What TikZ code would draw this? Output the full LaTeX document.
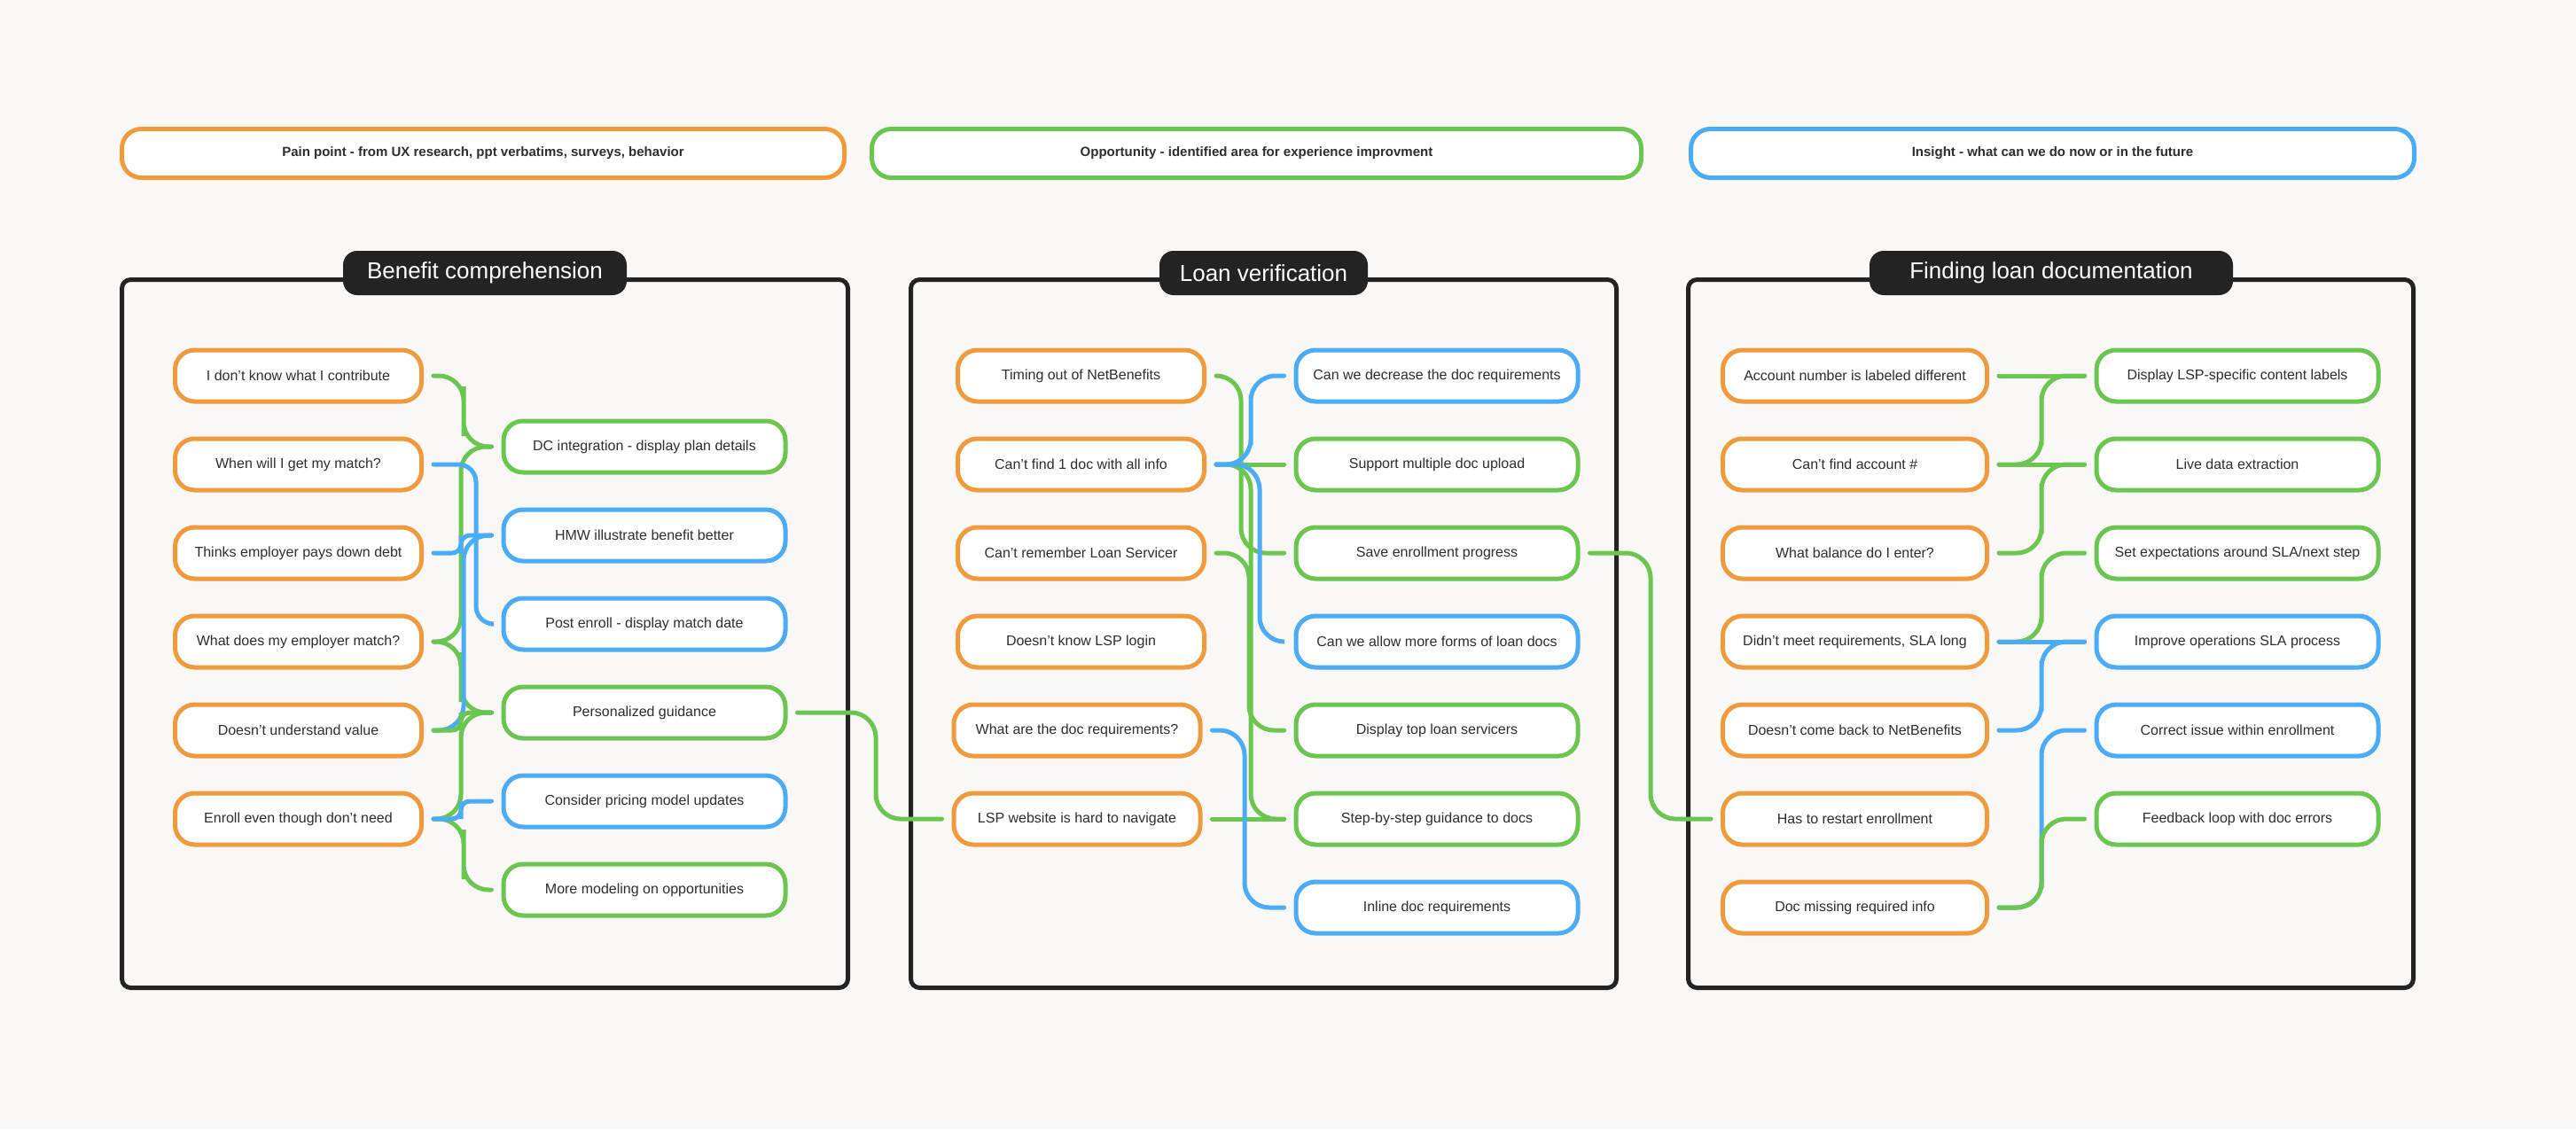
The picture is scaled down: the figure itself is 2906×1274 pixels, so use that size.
\documentclass[tikz,border=0pt]{standalone}
\usepackage{fontspec}
\setmainfont{Liberation Sans}
\usetikzlibrary{calc}
\definecolor{bg}{HTML}{F9F8F6}
\definecolor{por}{HTML}{F09A3C}
\definecolor{pgr}{HTML}{6AC64F}
\definecolor{pbl}{HTML}{4AABF7}
\definecolor{ink}{HTML}{2E2E2E}
\definecolor{dark}{HTML}{232323}
\newcommand\elbow[5][28pt]{\draw[cn,#2,rounded corners=#1] (#3.east) -| ($(#5|-#3.east)!0.5!(#5|-#4.west)$) |- (#4.west);}
\begin{document}
\begin{tikzpicture}[x=1pt,y=-1pt,
  card/.style={draw,line width=5pt,fill=white,rounded corners=22pt,minimum height=58pt,inner sep=0pt,text=ink,font=\fontsize{16}{19}\selectfont},
  pain/.style={card,draw=por,minimum width=278pt},
  opp/.style={card,draw=pgr,minimum width=318pt},
  ins/.style={card,draw=pbl,minimum width=318pt},
  legend/.style={draw,line width=5pt,fill=white,rounded corners=22pt,minimum height=55pt,inner sep=0pt,text=ink,font=\fontsize{15}{18}\selectfont\bfseries},
  frame/.style={draw=dark,line width=5pt,fill=bg,rounded corners=10pt,inner sep=0pt,minimum height=799pt},
  ttl/.style={fill=dark,rounded corners=16pt,minimum height=50pt,inner sep=0pt,text=white,font=\fontsize{26}{30}\selectfont},
  cn/.style={line width=5pt,line cap=round,shorten <=11pt,shorten >=11pt}]
\useasboundingbox (0,0) rectangle (2906,1274);
\fill[bg] (0,0) rectangle (2906,1274);
% legend
\node[legend,draw=por,minimum width=815pt] (l1) at (545,173) {Pain point - from UX research, ppt verbatims, surveys, behavior};
\node[legend,draw=pgr,minimum width=868pt] (l2) at (1417.5,173) {Opportunity - identified area for experience improvment};
\node[legend,draw=pbl,minimum width=816pt] (l3) at (2315.5,173) {Insight - what can we do now or in the future};
% frames
\node[frame,minimum width=819pt] (f1) at (547,715) {};
\node[frame,minimum width=796pt] (f2) at (1425.5,715) {};
\node[frame,minimum width=818pt] (f3) at (2313.5,715) {};
\node[ttl,minimum width=320pt] (t1) at (547,308) {Benefit comprehension};
\node[ttl,minimum width=235pt] (t2) at (1425.5,308) {Loan verification};
\node[ttl,minimum width=410pt] (t3) at (2314,308) {Finding loan documentation};
% section 1
\node[pain] (a1) at (336.5,424) {I don’t know what I contribute};
\node[pain] (a2) at (336.5,524) {When will I get my match?};
\node[pain] (a3) at (336.5,624) {Thinks employer pays down debt};
\node[pain] (a4) at (336.5,724) {What does my employer match?};
\node[pain] (a5) at (336.5,824) {Doesn’t understand value};
\node[pain] (a6) at (336.5,924) {Enroll even though don’t need};
\node[opp] (b1) at (727,504) {DC integration - display plan details};
\node[ins] (b2) at (727,604) {HMW illustrate benefit better};
\node[ins] (b3) at (727,704) {Post enroll - display match date};
\node[opp] (b4) at (727,804) {Personalized guidance};
\node[ins] (b5) at (727,904) {Consider pricing model updates};
\node[opp] (b6) at (727,1004) {More modeling on opportunities};
% section 2
\node[pain] (c1) at (1219.5,424) {Timing out of NetBenefits};
\node[pain] (c2) at (1219.5,524) {Can’t find 1 doc with all info};
\node[pain] (c3) at (1219.5,624) {Can’t remember Loan Servicer};
\node[pain] (c4) at (1219.5,724) {Doesn’t know LSP login};
\node[pain] (c5) at (1215,824) {What are the doc requirements?};
\node[pain] (c6) at (1215,924) {LSP website is hard to navigate};
\node[ins] (d1) at (1621,424) {Can we decrease the doc requirements};
\node[opp] (d2) at (1621,524) {Support multiple doc upload};
\node[opp] (d3) at (1621,624) {Save enrollment progress};
\node[ins] (d4) at (1621,724) {Can we allow more forms of loan docs};
\node[opp] (d5) at (1621,824) {Display top loan servicers};
\node[opp] (d6) at (1621,924) {Step-by-step guidance to docs};
\node[ins] (d7) at (1621,1024) {Inline doc requirements};
% section 3
\node[pain,minimum width=298pt] (e1) at (2092.5,424) {Account number is labeled different};
\node[pain,minimum width=298pt] (e2) at (2092.5,524) {Can’t find account \#};
\node[pain,minimum width=298pt] (e3) at (2092.5,624) {What balance do I enter?};
\node[pain,minimum width=298pt] (e4) at (2092.5,724) {Didn’t meet requirements, SLA long};
\node[pain,minimum width=298pt] (e5) at (2092.5,824) {Doesn’t come back to NetBenefits};
\node[pain,minimum width=298pt] (e6) at (2092.5,924) {Has to restart enrollment};
\node[pain,minimum width=298pt] (e7) at (2092.5,1024) {Doc missing required info};
\node[opp] (g1) at (2524,424) {Display LSP-specific content labels};
\node[opp] (g2) at (2524,524) {Live data extraction};
\node[opp] (g3) at (2524,624) {Set expectations around SLA/next step};
\node[ins] (g4) at (2524,724) {Improve operations SLA process};
\node[ins] (g5) at (2524,824) {Correct issue within enrollment};
\node[opp] (g6) at (2524,924) {Feedback loop with doc errors};
% vertical lanes
\coordinate (v1) at (520,0);
\coordinate (v1a) at (523,0);
\coordinate (v1b) at (537,0);
\coordinate (vx1) at (988,0);
\coordinate (v2a) at (1400,0);
\coordinate (v2b) at (1411,0);
\coordinate (v2c) at (1409,0);
\coordinate (v2d) at (1421,0);
\coordinate (v2e) at (1404,0);
\coordinate (vx2) at (1862,0);
\coordinate (v3) at (2303,0);
% section 1 connectors
\elbow{pgr}{a1}{b1}{v1a}
\elbow{pgr}{a4}{b1}{v1}
\elbow{pgr}{a4}{b4}{v1}
\elbow{pgr}{a6}{b4}{v1}
\elbow{pgr}{a6}{b6}{v1a}
\elbow[20pt]{pbl}{a2}{b3}{v1b}
\elbow[10pt]{pbl}{a3}{b2}{v1}
\elbow{pbl}{a5}{b2}{v1a}
\elbow[10pt]{pbl}{a6}{b5}{v1}
\elbow[10pt]{pgr}{a5}{b4}{v1}
\elbow{pgr}{b4}{c6}{vx1}
% section 2 connectors
\elbow{pgr}{c1}{d3}{v2a}
\draw[cn,pgr] (c2.east) -- (d2.west);
\elbow{pgr}{c2}{d6}{v2b}
\elbow{pgr}{c3}{d5}{v2c}
\draw[cn,pgr] (c6.east) -- (d6.west);
\elbow{pbl}{c2}{d1}{v2b}
\elbow{pbl}{c2}{d4}{v2d}
\elbow{pbl}{c5}{d7}{v2e}
\elbow{pgr}{d3}{e6}{vx2}
% section 3 connectors
\draw[cn,pgr] (e1.east) -- (g1.west);
\elbow{pgr}{e2}{g1}{v3}
\draw[cn,pgr] (e2.east) -- (g2.west);
\elbow{pgr}{e3}{g2}{v3}
\elbow{pgr}{e4}{g3}{v3}
\draw[cn,pbl] (e4.east) -- (g4.west);
\elbow{pbl}{e5}{g4}{v3}
\elbow{pbl}{e7}{g5}{v3}
\elbow{pgr}{e7}{g6}{v3}
\end{tikzpicture}
\end{document}
